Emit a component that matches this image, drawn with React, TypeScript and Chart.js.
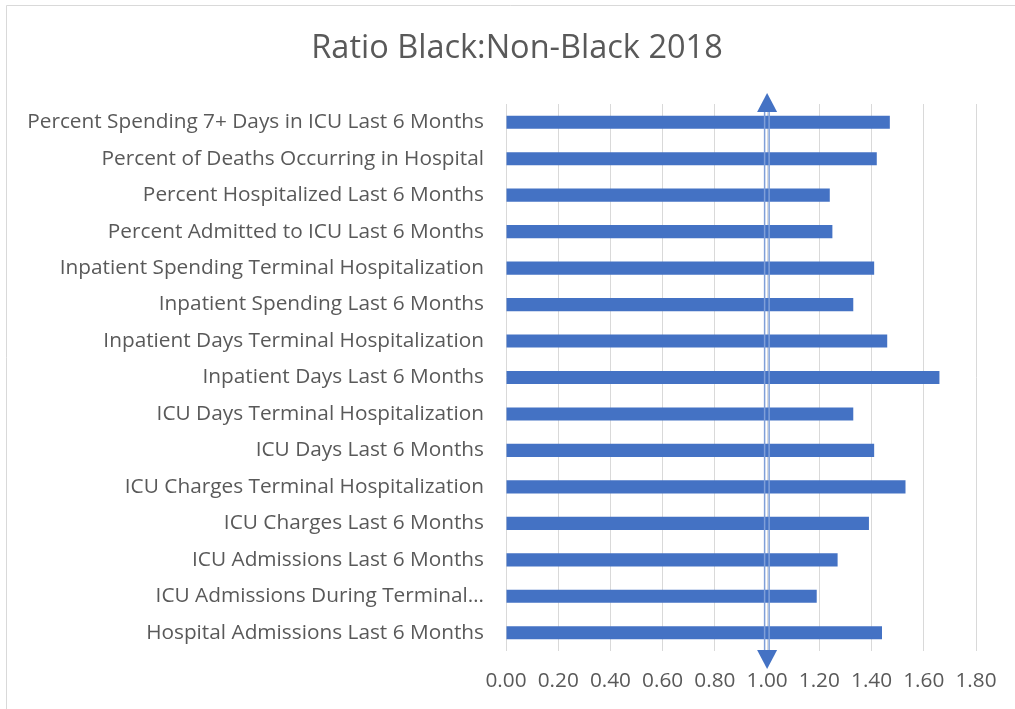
import React, { useEffect, useRef } from "react";
import { Chart, registerables } from "chart.js";

Chart.register(...registerables);

const chartTitle = "Ratio Black:Non-Black 2018";

const categories = [
  "Percent Spending 7+ Days in ICU Last 6 Months",
  "Percent of Deaths Occurring in Hospital",
  "Percent Hospitalized Last 6 Months",
  "Percent Admitted to ICU Last 6 Months",
  "Inpatient Spending Terminal Hospitalization",
  "Inpatient Spending Last 6 Months",
  "Inpatient Days Terminal Hospitalization",
  "Inpatient Days Last 6 Months",
  "ICU Days Terminal Hospitalization",
  "ICU Days Last 6 Months",
  "ICU Charges Terminal Hospitalization",
  "ICU Charges Last 6 Months",
  "ICU Admissions Last 6 Months",
  "ICU Admissions During Terminal…",
  "Hospital Admissions Last 6 Months",
];

const ratios = [
  1.47, 1.42, 1.24, 1.25, 1.41, 1.33, 1.46, 1.66, 1.33, 1.41, 1.53, 1.39, 1.27,
  1.19, 1.44,
];

const xMin = 0;
const xMax = 1.8;
const xStep = 0.2;
const parityValue = 1.0;

const FONT = "'Open Sans'";
const TEXT = "#595959";
const BAR = "#4472C4";

const framePlugin = {
  id: "frame",
  afterLayout(chart: any) {
    // centre the title over the whole chart frame (as in the original)
    const t = chart.titleBlock;
    if (t) {
      t.left = 58;
      t.width = t.right - t.left;
    }
  },
  beforeDraw(chart: any) {
    const ctx = chart.ctx;
    ctx.save();
    ctx.fillStyle = "#ffffff";
    ctx.fillRect(0, 0, chart.width, chart.height);
    ctx.strokeStyle = "#D9D9D9";
    ctx.lineWidth = 1;
    ctx.beginPath();
    ctx.moveTo(6.5, chart.height);
    ctx.lineTo(6.5, 5.5);
    ctx.lineTo(chart.width, 5.5);
    ctx.stroke();
    ctx.restore();
  },
};

const parityPlugin = {
  id: "parity",
  afterDraw(chart: any) {
    const ctx = chart.ctx;
    const x = chart.scales.x.getPixelForValue(parityValue);
    const top = chart.chartArea.top;
    const bottom = chart.chartArea.bottom;
    ctx.save();
    ctx.strokeStyle = "#7F9FD8";
    ctx.lineWidth = 1.5;
    ctx.beginPath();
    ctx.moveTo(x - 2.5, top + 4);
    ctx.lineTo(x - 2.5, bottom);
    ctx.moveTo(x + 2, top + 4);
    ctx.lineTo(x + 2, bottom);
    ctx.stroke();
    ctx.fillStyle = BAR;
    ctx.beginPath();
    ctx.moveTo(x, top - 11);
    ctx.lineTo(x - 10, top + 8);
    ctx.lineTo(x + 10, top + 8);
    ctx.closePath();
    ctx.fill();
    ctx.beginPath();
    ctx.moveTo(x, bottom + 18);
    ctx.lineTo(x - 10, bottom - 1);
    ctx.lineTo(x + 10, bottom - 1);
    ctx.closePath();
    ctx.fill();
    ctx.restore();
  },
};

export default function App() {
  const ref = useRef<HTMLCanvasElement | null>(null);

  useEffect(() => {
    if (!ref.current) return;
    const chart = new Chart(ref.current, {
      type: "bar",
      data: {
        labels: categories,
        datasets: [
          {
            label: "Ratio",
            data: ratios,
            backgroundColor: BAR,
            borderWidth: 0,
            categoryPercentage: 1,
            barPercentage: 0.36,
          },
        ],
      },
      options: {
        indexAxis: "y",
        responsive: false,
        animation: false,
        layout: { padding: { left: 0, right: 39, top: 0, bottom: 0 } },
        plugins: {
          legend: { display: false },
          tooltip: { enabled: false },
          title: {
            display: true,
            text: chartTitle,
            color: TEXT,
            font: { family: FONT, size: 32.5, weight: "normal" },
            padding: { top: 29.5, bottom: 35.5 },
          },
        },
        scales: {
          x: {
            min: xMin,
            max: xMax,
            grid: { color: "#D9D9D9", lineWidth: 1, drawTicks: false },
            border: { display: false },
            ticks: {
              stepSize: xStep,
              padding: 18,
              color: TEXT,
              font: { family: FONT, size: 20.8 },
              callback: (v: any) => Number(v).toFixed(2),
            },
            afterFit: (s: any) => {
              s.height = 58;
            },
          },
          y: {
            grid: { display: false, drawTicks: false },
            border: { display: false },
            ticks: {
              padding: 22,
              color: TEXT,
              font: { family: FONT, size: 20.8 },
              autoSkip: false,
            },
            afterFit: (s: any) => {
              s.width = 506;
            },
          },
        },
      } as any,
      plugins: [framePlugin, parityPlugin],
    });
    return () => chart.destroy();
  }, []);

  return (
    <div
      style={{
        position: "absolute",
        left: 0,
        top: 0,
        width: 1015,
        height: 709,
        overflow: "hidden",
      }}
    >
      <canvas ref={ref} width={1015} height={709} style={{ display: "block" }} />
    </div>
  );
}
